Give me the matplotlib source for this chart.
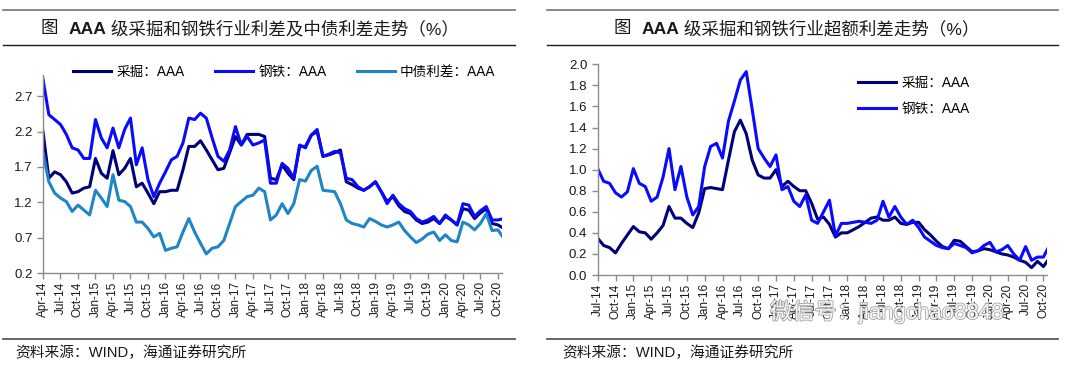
import numpy as np
import pandas as pd
import matplotlib
matplotlib.use('Agg')
import matplotlib.pyplot as plt
import matplotlib.patheffects as pe

plt.rcParams['font.family'] = ['Liberation Sans', 'Noto Sans CJK SC', 'DejaVu Sans']

# left chart: monthly, Apr-14 .. Nov-20
months_l = pd.date_range('2014-04', '2020-11', freq='MS')
mining_l = [2.20, 1.54, 1.63, 1.59, 1.49, 1.33, 1.35, 1.40, 1.42, 1.82,
            1.61, 1.54, 1.93, 1.59, 1.68, 1.82, 1.42, 1.47, 1.33, 1.18,
            1.35, 1.35, 1.37, 1.37, 1.66, 1.99, 1.99, 2.07, 1.94, 1.80,
            1.66, 1.68, 1.90, 2.13, 2.01, 2.16, 2.16, 2.16, 2.13, 1.54,
            1.52, 1.73, 1.61, 1.52, 1.99, 1.99, 2.15, 2.20, 1.85, 1.87,
            1.90, 1.94, 1.49, 1.45, 1.40, 1.37, 1.42, 1.49, 1.35, 1.21,
            1.28, 1.15, 1.07, 1.04, 0.95, 0.90, 0.92, 0.97, 0.90, 1.00,
            0.95, 0.88, 1.11, 1.09, 0.97, 1.05, 1.11, 0.90, 0.88, 0.83]
steel_l = [2.94, 2.44, 2.37, 2.30, 2.16, 1.97, 1.94, 1.82, 1.82, 2.37,
           2.11, 1.97, 2.25, 1.97, 2.23, 2.39, 1.73, 1.97, 1.52, 1.28,
           1.47, 1.63, 1.80, 1.85, 2.04, 2.39, 2.37, 2.46, 2.39, 2.11,
           1.85, 1.78, 1.94, 2.27, 2.01, 2.13, 2.01, 2.04, 2.08, 1.47,
           1.47, 1.75, 1.68, 1.54, 2.01, 1.97, 2.15, 2.23, 1.85, 1.88,
           1.92, 1.90, 1.54, 1.52, 1.42, 1.37, 1.42, 1.49, 1.35, 1.18,
           1.30, 1.18, 1.11, 1.07, 0.97, 0.92, 0.95, 1.00, 0.90, 1.02,
           0.95, 0.88, 1.18, 1.16, 1.00, 1.08, 1.14, 0.95, 0.95, 0.97]
cb_l = [1.90, 1.49, 1.33, 1.26, 1.21, 1.07, 1.16, 1.09, 1.02, 1.37,
        1.26, 1.14, 1.59, 1.23, 1.21, 1.14, 0.92, 0.92, 0.83, 0.71,
        0.76, 0.52, 0.55, 0.57, 0.78, 0.97, 0.78, 0.62, 0.47, 0.55,
        0.57, 0.66, 0.90, 1.14, 1.21, 1.28, 1.30, 1.40, 1.35, 0.95,
        1.02, 1.18, 1.04, 1.18, 1.52, 1.50, 1.65, 1.71, 1.37, 1.36,
        1.35, 1.18, 0.95, 0.90, 0.88, 0.85, 0.97, 0.93, 0.88, 0.85,
        0.88, 0.92, 0.80, 0.71, 0.63, 0.68, 0.75, 0.78, 0.66, 0.74,
        0.66, 0.64, 0.92, 0.88, 0.81, 0.90, 1.04, 0.80, 0.81, 0.69]

# right chart: monthly, Jul-14 .. Nov-20
months_r = pd.date_range('2014-07', '2020-11', freq='MS')
mining_r = [0.35, 0.28, 0.26, 0.21, 0.30, 0.38, 0.46, 0.41, 0.40, 0.34,
            0.40, 0.47, 0.65, 0.54, 0.54, 0.49, 0.45, 0.59, 0.82, 0.83,
            0.82, 0.81, 1.09, 1.36, 1.47, 1.34, 1.09, 0.95, 0.92, 0.92,
            1.00, 0.84, 0.89, 0.84, 0.80, 0.80, 0.68, 0.53, 0.55, 0.48,
            0.36, 0.40, 0.40, 0.43, 0.46, 0.50, 0.54, 0.55, 0.52, 0.52,
            0.55, 0.49, 0.48, 0.50, 0.50, 0.43, 0.38, 0.32, 0.27, 0.25,
            0.33, 0.32, 0.27, 0.22, 0.23, 0.25, 0.24, 0.22, 0.20, 0.19,
            0.17, 0.14, 0.12, 0.07, 0.13, 0.08, 0.16]
steel_r = [1.01, 0.89, 0.87, 0.78, 0.74, 0.79, 1.01, 0.87, 0.84, 0.70,
           0.74, 0.93, 1.20, 0.81, 1.03, 0.74, 0.57, 0.65, 1.03, 1.22,
           1.25, 1.11, 1.46, 1.65, 1.85, 1.93, 1.57, 1.20, 1.11, 1.03,
           1.14, 0.81, 0.84, 0.70, 0.65, 0.76, 0.52, 0.49, 0.60, 0.71,
           0.37, 0.49, 0.49, 0.50, 0.51, 0.50, 0.49, 0.52, 0.70, 0.55,
           0.65, 0.55, 0.48, 0.52, 0.45, 0.36, 0.32, 0.28, 0.26, 0.25,
           0.30, 0.28, 0.26, 0.21, 0.23, 0.28, 0.31, 0.22, 0.24, 0.28,
           0.20, 0.14, 0.27, 0.14, 0.17, 0.17, 0.28]

c_mining = '#00007a'
c_steel = '#0a0aff'
c_cb = '#1f85c6'
W, H = 1080, 369

fig = plt.figure(figsize=(W / 100, H / 100), dpi=100)


def fx(px):
    return px / W


def fy(py):
    return 1 - py / H


def style_axes(ax):
    for s in ['top', 'right']:
        ax.spines[s].set_visible(False)
    for s in ['left', 'bottom']:
        ax.spines[s].set_color('#8c8c8c')
        ax.spines[s].set_linewidth(1.0)
    ax.tick_params(axis='both', color='#8c8c8c', length=4, width=1.0,
                   labelcolor='#1a1a1a')
    ax.tick_params(axis='y', labelsize=9.5)
    ax.tick_params(axis='x', labelsize=8.5, rotation=90, pad=2)


# ---- left chart
ax1 = fig.add_axes([fx(43), fy(273), fx(502 - 43), fy(75) - fy(273)])
x_l = np.arange(len(months_l))
ax1.plot(x_l, mining_l, color=c_mining, lw=2.2, label='采掘：AAA', solid_joinstyle='round')
ax1.plot(x_l, steel_l, color=c_steel, lw=2.2, label='钢铁：AAA', solid_joinstyle='round')
ax1.plot(x_l, cb_l, color=c_cb, lw=2.2, label='中债利差：AAA', solid_joinstyle='round')
ax1.set_xlim(0, 78.7)
ax1.set_ylim(0.2, 3.0)
ax1.set_yticks([0.2, 0.7, 1.2, 1.7, 2.2, 2.7])
ax1.set_yticklabels(['0.2', '0.7', '1.2', '1.7', '2.2', '2.7'])
ax1.set_xticks(x_l[::3])
ax1.set_xticklabels([d.strftime('%b-%y') for d in months_l[::3]])
style_axes(ax1)
fig.legend(handles=ax1.get_lines(), loc='center left', bbox_to_anchor=(fx(73), fy(72)),
           ncol=3, frameon=False, fontsize=9.8, handlelength=2.8, handletextpad=0.4,
           columnspacing=2.2, borderpad=0, borderaxespad=0)

# ---- right chart
ax2 = fig.add_axes([fx(597.7), fy(275), fx(1047 - 597.7), fy(64.3) - fy(275)])
x_r = np.arange(len(months_r))
ax2.plot(x_r, mining_r, color=c_mining, lw=2.2, label='采掘：AAA', solid_joinstyle='round')
ax2.plot(x_r, steel_r, color=c_steel, lw=2.2, label='钢铁：AAA', solid_joinstyle='round')
ax2.set_xlim(0, 75.6)
ax2.set_ylim(0, 2.0)
ax2.set_yticks(np.arange(0, 2.01, 0.2))
ax2.set_yticklabels(['%.1f' % v for v in np.arange(0, 2.01, 0.2)])
ax2.set_xticks(x_r[::3])
ax2.set_xticklabels([d.strftime('%b-%y') for d in months_r[::3]])
style_axes(ax2)
fig.legend(handles=ax2.get_lines(), loc='center left', bbox_to_anchor=(fx(858), fy(96)),
           ncol=1, frameon=False, fontsize=9.8, handlelength=2.8, handletextpad=0.4,
           labelspacing=0.9, borderpad=0, borderaxespad=0)

# ---- frame lines
for x0, x1 in [(3, 515), (547, 1058)]:
    fig.add_artist(plt.Line2D([fx(x0), fx(x1)], [fy(10), fy(10)], color='#7f7f7f', lw=1.3))
    fig.add_artist(plt.Line2D([fx(x0), fx(x1)], [fy(45), fy(45)], color='#1a1a1a', lw=1.0))
    fig.add_artist(plt.Line2D([fx(x0), fx(x1)], [fy(339), fy(339)], color='#595959', lw=1.3))

# ---- titles built from pieces (AAA in bold)
renderer = fig.canvas.get_renderer()


def title_parts(xc, yc, parts):
    texts = []
    for s, w in parts:
        t = fig.text(0, fy(yc), s, fontsize=12.6, fontweight=w, va='center', ha='left',
                     color='#1a1a1a')
        texts.append(t)
    widths = [t.get_window_extent(renderer).width for t in texts]
    x = xc - sum(widths) / 2
    for t, w in zip(texts, widths):
        t.set_x(fx(x))
        x += w


title_parts(250, 29, [('图  ', 'normal'), ('AAA', 'bold'),
                      (' 级采掘和钢铁行业利差及中债利差走势（%）', 'normal')])
title_parts(797, 29, [('图  ', 'normal'), ('AAA', 'bold'),
                      (' 级采掘和钢铁行业超额利差走势（%）', 'normal')])

# ---- source notes
fig.text(fx(15), fy(353), '资料来源：WIND，海通证券研究所', fontsize=10.6, va='center',
         color='#1a1a1a')
fig.text(fx(562), fy(353), '资料来源：WIND，海通证券研究所', fontsize=10.6, va='center',
         color='#1a1a1a')

# ---- watermark
fig.text(fx(770), fy(312), '微信号：jiangchao8848', fontsize=16, va='center', color='white',
         alpha=0.9, path_effects=[pe.withStroke(linewidth=1.2, foreground='#9a9a9a')])

fig.savefig('out.png', dpi=100)
